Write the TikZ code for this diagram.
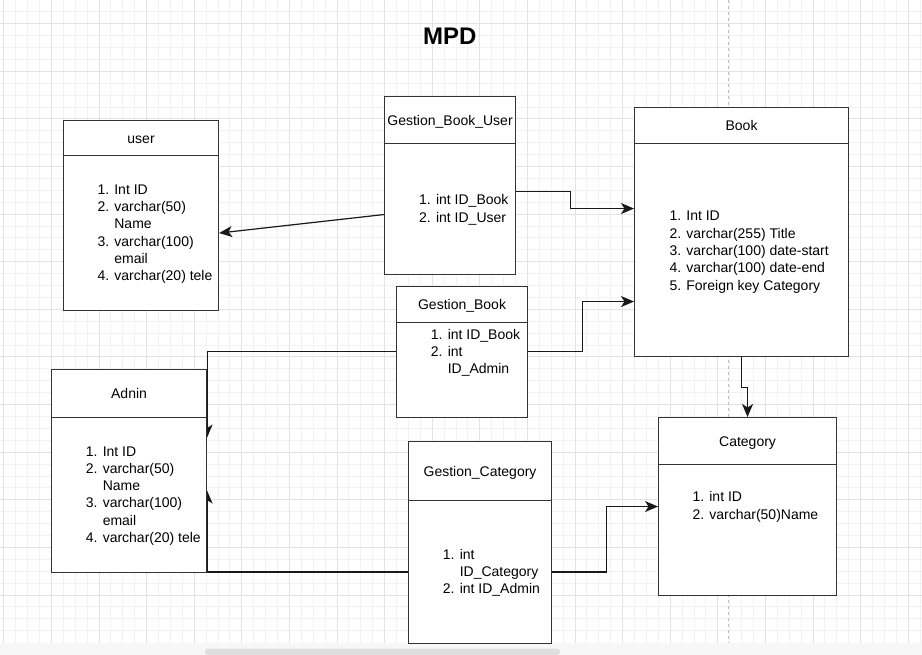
\documentclass[tikz,border=0pt]{standalone}
\usepackage{fontspec}
\setmainfont{Liberation Sans}
\usetikzlibrary{arrows.meta,backgrounds}

\newcommand{\tabfont}{\fontsize{14}{17.3}\selectfont}
\newcommand{\fieldrows}[1]{\begin{tabular}[t]{@{}l@{}}#1\end{tabular}}

\tikzset{
  tblhead/.style={draw=black!80, line width=1.1pt, fill=white, anchor=north west,
    inner sep=0pt, font=\tabfont, text height=10pt, text depth=0pt},
  tblbody/.style={draw=black!80, line width=1.1pt, fill=white, anchor=north west, inner sep=0pt},
  fields/.style={anchor=base west, inner sep=0pt, font=\tabfont},
  link/.style={draw=black!90, line width=1.2pt, -{Stealth[length=13pt,width=11pt,inset=3.5pt]}},
  minorgrid/.style={draw=black!5, line width=0.8pt},
  majorgrid/.style={draw=black!11, line width=0.8pt},
  pagebreak/.style={draw=black!25, line width=0.9pt, dash pattern=on 3pt off 3pt}
}

\begin{document}
\begin{tikzpicture}[x=1pt, y=-1pt]
  \useasboundingbox (0,0) rectangle (922,655);

  % canvas
  \begin{scope}[on background layer]
    \fill[white] (0,0) rectangle (922,655);
    \foreach \i in {0,...,77} \draw[minorgrid] (3.7+11.9*\i,0) -- (3.7+11.9*\i,643);
    \foreach \j in {-1,...,51} \draw[minorgrid] (0,23.7+11.9*\j) -- (922,23.7+11.9*\j);
    \foreach \i in {0,...,19} \draw[majorgrid] (3.7+47.6*\i,0) -- (3.7+47.6*\i,643);
    \foreach \j in {0,...,12} \draw[majorgrid] (0,23.7+47.6*\j) -- (922,23.7+47.6*\j);
    \draw[pagebreak] (728,0) -- (728,643);
    \fill[black!3] (0,643) rectangle (922,655);
    \fill[black!13, rounded corners=3pt] (205,648.5) rectangle (560,655);
  \end{scope}

  \node[font=\bfseries\fontsize{24}{28}\selectfont, anchor=base] (title) at (449.7,44.3) {MPD};

  % tables
  \node[tblhead, minimum width=155pt, minimum height=35pt] (userh) at (63,120) {user};
  \node[tblbody, minimum width=155pt, minimum height=155pt] (userb) at (63,155) {};
  \node[fields] (userf) at (97.3,194.3) {\fieldrows{1. Int ID\\2. varchar(50)\\\phantom{2. }Name\\3. varchar(100)\\\phantom{3. }email\\4. varchar(20) tele}};

  \node[tblhead, minimum width=131pt, minimum height=47pt] (gbuh) at (384,96) {Gestion\_Book\_User};
  \node[tblbody, minimum width=131pt, minimum height=131pt] (gbub) at (384,143) {};
  \node[fields] (gbuf) at (419,205) {\fieldrows{1. int ID\_Book\\2. int ID\_User}};

  \node[tblhead, minimum width=214pt, minimum height=36pt] (bookh) at (634,107) {Book};
  \node[tblbody, minimum width=214pt, minimum height=213pt] (bookb) at (634,143) {};
  \node[fields] (bookf) at (669.3,221) {\fieldrows{1. Int ID\\2. varchar(255) Title\\3. varchar(100) date-start\\4. varchar(100) date-end\\5. Foreign key Category}};

  \node[tblhead, minimum width=131pt, minimum height=36pt] (gbh) at (396,286) {Gestion\_Book};
  \node[tblbody, minimum width=131pt, minimum height=95pt] (gbb) at (396,322) {};
  \node[fields] (gbf) at (430.7,339.3) {\fieldrows{1. int ID\_Book\\2. int\\\phantom{2. }ID\_Admin}};

  \node[tblhead, minimum width=155pt, minimum height=48pt] (adnh) at (51,369) {Adnin};
  \node[tblbody, minimum width=155pt, minimum height=155pt] (adnb) at (51,417) {};
  \node[fields] (adnf) at (85.7,456) {\fieldrows{1. Int ID\\2. varchar(50)\\\phantom{2. }Name\\3. varchar(100)\\\phantom{3. }email\\4. varchar(20) tele}};

  \node[tblhead, minimum width=143pt, minimum height=59pt] (gch) at (408,441) {Gestion\_Category};
  \node[tblbody, minimum width=143pt, minimum height=143pt] (gcb) at (408,500) {};
  \node[fields] (gcf) at (442.7,559.3) {\fieldrows{1. int\\\phantom{1. }ID\_Category\\2. int ID\_Admin}};

  \node[tblhead, minimum width=178pt, minimum height=47pt] (cath) at (658,417) {Category};
  \node[tblbody, minimum width=178pt, minimum height=131pt] (catb) at (658,464) {};
  \node[fields] (catf) at (692.3,501.7) {\fieldrows{1. int ID\\2. varchar(50)Name}};

  % links
  \begin{scope}[on background layer]
    \draw[link] ([yshift=-5.5pt]gbub.west) -- (userb.east);
    \draw[link] ([yshift=17.5pt]gbub.east) -- ++(54,0) |- ([yshift=41.5pt]bookb.west);
    \draw[link] ([yshift=18.5pt]gbb.east) -- ++(54,0) |- ([yshift=-51.5pt]bookb.west);
    \draw[link] ([yshift=18.5pt]gbb.west) -| ([yshift=57.5pt]adnb.east);
    \draw[link] (gcb.west) -| ([yshift=4.5pt]adnb.east);
    \draw[link] (gcb.east) -- ++(54,0) |- ([yshift=23.5pt]catb.west);
    \draw[link] (bookb.south) -- ++(0,30) -| (cath.north);
  \end{scope}
\end{tikzpicture}
\end{document}
